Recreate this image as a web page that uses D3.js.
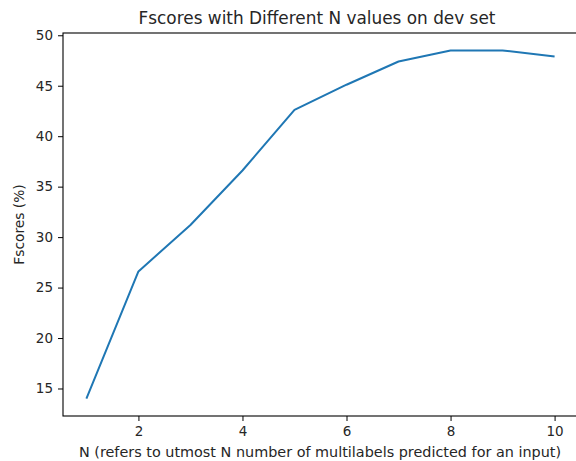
<!DOCTYPE html>
<html>
<head>
<meta charset="utf-8">
<script src="https://cdn.jsdelivr.net/npm/d3@7"></script>
<style>
  body { margin: 0; background: #fff; }
  svg text { font-family: "DejaVu Sans", sans-serif; fill: #262626; }
</style>
</head>
<body>
<svg id="chart" width="576" height="461"></svg>
<script>
// N values and the dev set fscores
var nValues = [1, 2, 3, 4, 5, 6, 7, 8, 9, 10];
var fscores = [14.0, 26.6, 31.2, 36.6, 42.6, 45.1, 47.4, 48.5, 48.5, 47.9];
var xTicks = [2, 4, 6, 8, 10];
var yTicks = [15, 20, 25, 30, 35, 40, 45, 50];

var svg = d3.select("#chart");
// plot box (window.top is taken, so own names)
var plotL = 63, plotR = 578, plotT = 33, plotB = 416;

// matplotlib style 5% padding round the data
var xPad = (d3.max(nValues) - d3.min(nValues)) * 0.05;
var yPad = (d3.max(fscores) - d3.min(fscores)) * 0.05;

var x = d3.scaleLinear()
    .domain([d3.min(nValues) - xPad, d3.max(nValues) + xPad])
    .range([plotL, plotR]);
var y = d3.scaleLinear()
    .domain([d3.min(fscores) - yPad, d3.max(fscores) + yPad])
    .range([plotB, plotT]);

var xAxis = svg.append("g")
    .attr("transform", "translate(0," + plotB + ")")
    .call(d3.axisBottom(x).tickValues(xTicks).tickSize(5).tickPadding(5).tickSizeOuter(0));
var yAxis = svg.append("g")
    .attr("transform", "translate(" + plotL + ",0)")
    .call(d3.axisLeft(y).tickValues(yTicks).tickSize(5).tickPadding(5).tickSizeOuter(0));

[xAxis, yAxis].forEach(function (a) {
    a.selectAll("text").style("font-size", "13.5px").attr("fill", "#262626");
    a.selectAll("line").attr("stroke", "#000").attr("stroke-width", 1);
    a.select(".domain").remove();
});

// the frame (right side falls just outside the picture)
svg.append("rect")
    .attr("x", plotL).attr("y", plotT)
    .attr("width", plotR - plotL).attr("height", plotB - plotT)
    .attr("fill", "none").attr("stroke", "#000").attr("stroke-width", 1.1);

var line = d3.line()
    .x(function (d, i) { return x(nValues[i]); })
    .y(function (d) { return y(d); });

svg.append("path")
    .datum(fscores)
    .attr("d", line)
    .attr("fill", "none")
    .attr("stroke", "#1f77b4")
    .attr("stroke-width", 2)
    .attr("stroke-linejoin", "round");

svg.append("text")
    .attr("x", 317).attr("y", 24)
    .attr("text-anchor", "middle")
    .style("font-size", "16.9px")
    .text("Fscores with Different N values on dev set");

svg.append("text")
    .attr("x", 320).attr("y", 457)
    .attr("text-anchor", "middle")
    .style("font-size", "14.4px")
    .text("N (refers to utmost N number of multilabels predicted for an input)");

svg.append("text")
    .attr("transform", "translate(24," + (plotT + plotB) / 2 + ") rotate(-90)")
    .attr("text-anchor", "middle")
    .style("font-size", "13.8px")
    .text("Fscores (%)");
</script>
</body>
</html>
